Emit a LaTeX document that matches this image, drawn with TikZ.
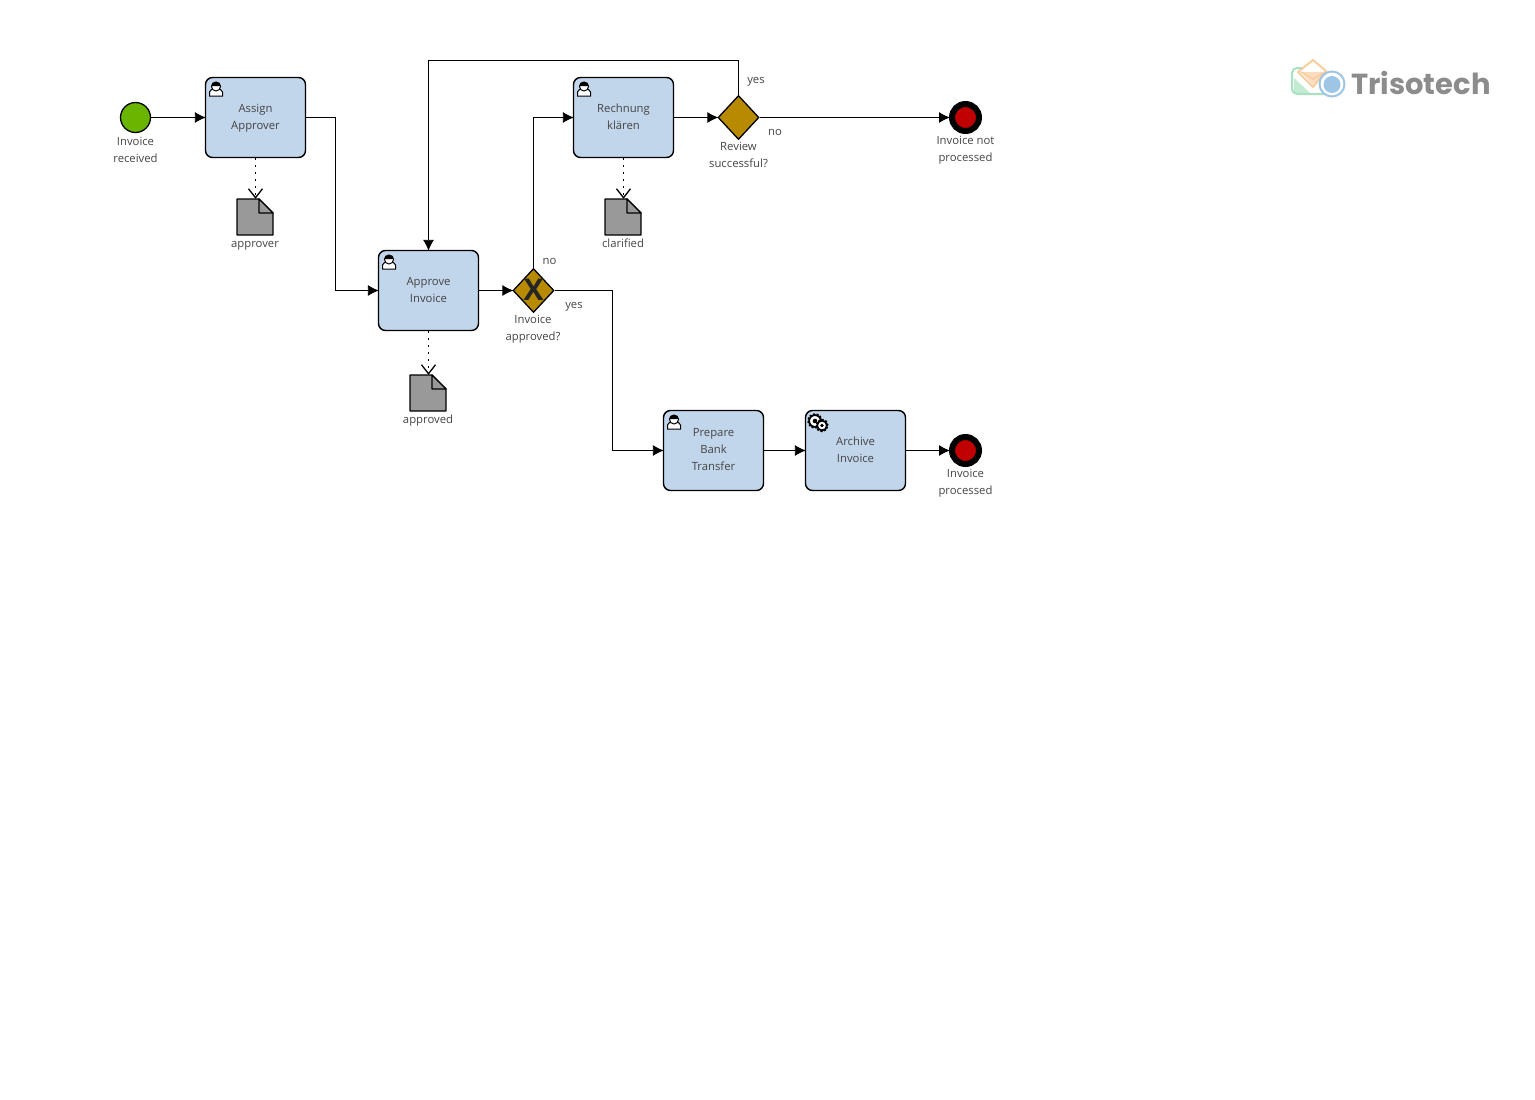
\documentclass[tikz,border=0pt]{standalone}
\usepackage{fontspec}
\setmainfont{Open Sans}
\newfontfamily\logofont{Poppins}
\usetikzlibrary{arrows.meta,shapes.geometric}
\definecolor{taskblue}{HTML}{C1D5EB}
\definecolor{gatecol}{HTML}{B88A00}
\definecolor{startcol}{HTML}{6AB500}
\definecolor{endcol}{HTML}{C00000}
\definecolor{labelcol}{HTML}{444444}
\definecolor{logogreen}{HTML}{A9E2BE}
\definecolor{logoorange}{HTML}{F9CDA0}
\definecolor{logoblue}{HTML}{9CC5E6}
\tikzset{
	task/.style={draw,line width=1.4pt,rounded corners=7pt,fill=taskblue,minimum width=100pt,minimum height=80pt,inner sep=0pt,align=center,font=\fontsize{11.3}{17}\selectfont,text=labelcol},
	gate/.style={draw,line width=1.3pt,diamond,fill=gatecol,minimum width=41pt,minimum height=44pt,inner sep=0pt},
	startev/.style={draw,line width=1.3pt,circle,fill=startcol,minimum size=30pt,inner sep=0pt},
	endev/.style={draw,line width=6pt,circle,fill=endcol,minimum size=27pt,inner sep=0pt},
	lab/.style={align=center,inner sep=0pt,font=\fontsize{11.3}{17}\selectfont,text=labelcol,execute at begin node=\strut,execute at end node=\strut},
	flow/.style={-{Latex[length=11pt,width=11pt]},line width=0.9pt,shorten >=-1pt},
	assoc/.style={-{Straight Barb[length=9pt,width=14pt,line width=1.3pt]},line width=1.3pt,dash pattern=on 1.5pt off 5.5pt},
	pics/usericon/.style={code={
		\draw[line width=1pt,fill=white] (-6.5,7.5) -- (-6.5,3.5) .. controls (-6.5,1) and (-3,1) .. (-2.5,0) -- (2.5,0) .. controls (3,1) and (6.5,1) .. (6.5,3.5) -- (6.5,7.5) -- cycle;
		\draw[line width=1pt,fill=white] (0,-2) circle (4.5pt);
		\fill (-4.8,-2.5) .. controls (-4.5,-8) and (4.5,-8) .. (4.8,-2.5) -- cycle;
	}},
	pics/gearicon/.style={code={
		\draw[line width=2.4pt,dash pattern=on 1.8pt off 1.6pt] (0,0) circle (#1pt);
		\draw[line width=1.8pt,fill=white] (0,0) circle (#1pt-0.6pt);
		\fill (0,0) circle (#1pt*0.35);
	}},
}
\begin{document}
\begin{tikzpicture}[x=1pt,y=-1pt]
	\useasboundingbox (0,0) rectangle (1535,1100);
	
	\node[task] (assign) at (255.5,117.5) {\strut Assign\\Approver\strut};
	\node[task] (approve) at (428.5,290.5) {\strut Approve\\Invoice\strut};
	\node[task] (rechnung) at (623.5,117.5) {\strut Rechnung\\kl\"aren\strut};
	\node[task] (prepare) at (713.5,450.5) {\strut Prepare\\Bank\\Transfer\strut};
	\node[task] (archive) at (855.5,450.5) {\strut Archive\\Invoice\strut};
	\foreach \k in {assign,approve,rechnung,prepare}{
		\pic at ([shift={(-39.5,-29)}]\k) {usericon};}
	\pic at (815,421) {gearicon=6.5};
	\pic at (822,425.5) {gearicon=5.5};
	
	\node[startev] (start) at (135.5,117.5) {};
	\node[endev] (endno) at (965.5,117.5) {};
	\node[endev] (endyes) at (965.5,450.5) {};
	\node[gate] (gateappr) at (533.5,290.5) {};
	\node[gate] (gaterev) at (738.5,117.5) {};
	\node[font=\fontsize{30}{30}\selectfont\bfseries,inner sep=0pt,text=black!85] at (533.5,289.5) {X};
	
	%documents
	\foreach \n/\x/\y/\t in {docappr/255/217/approver,docok/428/393/approved,docclar/623/217/clarified}{
		\node[minimum size=36pt,inner sep=0pt] (\n) at (\x,\y) {};
		\draw[line width=1.3pt,fill=black!40,line join=round] (\x-18,\y-18) -- ++(22,0) -- ++(14,14) -- ++(0,22) -- ++(-36,0) -- cycle;
		\draw[line width=1.3pt,fill=black!40,line join=round] (\x+4,\y-18) -- ++(0,14) -- ++(14,0) -- cycle;
		\node[lab] at (\x,\y+27) {\t};}
	
	\coordinate (bendassign) at (335.5,200);
	\coordinate (bendyes) at (612.5,380);
	\coordinate (bendback) at (600,60.5);
	
	\draw[flow] (start) -- (assign);
	\draw[flow] (assign.east) -| (bendassign) |- (approve.west);
	\draw[flow] (approve) -- (gateappr);
	\draw[flow] (gateappr.north) |- (rechnung.west);
	\draw[flow] (gateappr.east) -| (bendyes) |- (prepare.west);
	\draw[flow] (rechnung.east) -- (gaterev.west);
	\draw[flow] (gaterev.north) |- (bendback) -| (approve.north);
	\draw[flow] (gaterev.east) -- (endno);
	\draw[flow] (prepare) -- (archive);
	\draw[flow] (archive) -- (endyes);
	
	\draw[assoc] (assign.south) -- (assign.south |- docappr.north);
	\draw[assoc] (approve.south) -- (approve.south |- docok.north);
	\draw[assoc] (rechnung.south) -- (rechnung.south |- docclar.north);
	
	\node[lab] at (135.5,152.5) {Invoice\\received};
	\node[lab] at (533,330.5) {Invoice\\approved?};
	\node[lab] at (738.5,157.5) {Review\\successful?};
	\node[lab] at (965.5,151.5) {Invoice not\\processed};
	\node[lab] at (965.5,484.5) {Invoice\\processed};
	\node[lab] at (756,80) {yes};
	\node[lab] at (775,132) {no};
	\node[lab] at (549.5,261) {no};
	\node[lab] at (574,305) {yes};
	
	%logo
	\fill[logogreen!70] (1294,78) -- (1310,93) -- (1294,93) -- cycle;
	\draw[logogreen,line width=2pt,rounded corners=5pt] (1326,94) -- (1292,94) -- (1292,68) -- (1303,68);
	\fill[logoorange!70] (1301,72) -- (1325,72) -- (1313,85) -- cycle;
	\draw[logoorange,line width=2pt,line join=round] (1298,72) -- (1313,60) -- (1326,71) -- (1313,87) -- cycle;
	\draw[logoorange,line width=1.5pt] (1301,72) -- (1313,79) -- (1325,72);
	\draw[logoblue,line width=2pt,fill=white] (1332,84) circle (12.5pt);
	\fill[logoblue] (1332,84.5) circle (8.5pt);
	\node[anchor=west,inner sep=0pt,text=black!45,font=\logofont\bfseries\fontsize{29}{29}\selectfont] at (1351,83.5) {Trisotech};
\end{tikzpicture}
\end{document}
